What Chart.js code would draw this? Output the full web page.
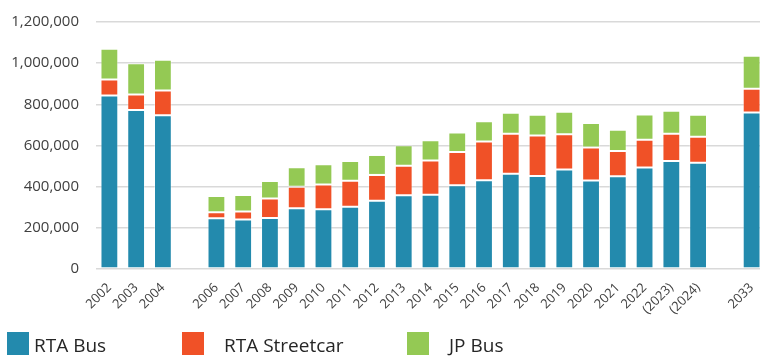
<!DOCTYPE html>
<html>
<head>
<meta charset="utf-8">
<script src="https://cdn.jsdelivr.net/npm/chart.js@4.4.1/dist/chart.umd.min.js"></script>
<style>
    html, body { margin: 0; padding: 0; background: #fff; overflow: hidden; }
    #wrap { position: relative; width: 766px; height: 358px; }
    #legend { position: absolute; left: 0; top: 332px; width: 760px; height: 26px; font-family: "Open Sans", sans-serif; font-size: 19px; color: #262626; }
    .box { position: absolute; top: 0; width: 22px; height: 23px; }
    .label { position: absolute; top: 0; line-height: 26px; white-space: nowrap; }
</style>
</head>
<body>
<div id="wrap">
    <canvas id="ridership" width="766" height="358"></canvas>
    <div id="legend"></div>
</div>
<script>
// Annual boardings by service; blank categories leave gaps in the year axis
const years = ['2002', '2003', '2004', '', '2006', '2007', '2008', '2009', '2010', '2011', '2012',
    '2013', '2014', '2015', '2016', '2017', '2018', '2019', '2020', '2021', '2022',
    '(2023)', '(2024)', '', '2033'];

const rtaBus = [843000, 772000, 747000, null, 246000, 240000, 248000, 295000, 290000, 302000, 332000,
    358000, 361000, 407000, 431000, 463000, 452000, 483000, 430000, 451000, 493000,
    525000, 516000, null, 760000];

const rtaStreetcar = [78000, 76000, 120000, null, 30000, 39000, 94000, 105000, 120000, 127000, 125000,
    144000, 166000, 161000, 188000, 194000, 196000, 172000, 160000, 122000, 135000,
    132000, 126000, null, 116000];

const jpBus = [149000, 151000, 150000, null, 79000, 81000, 86000, 94000, 99000, 96000, 97000,
    99000, 99000, 95000, 99000, 102000, 101000, 109000, 119000, 103000, 123000,
    112000, 107000, null, 160000];

const series = [
    { label: 'RTA Bus', data: rtaBus, color: '#238aad' },
    { label: 'RTA Streetcar', data: rtaStreetcar, color: '#f05127' },
    { label: 'JP Bus', data: jpBus, color: '#94c954' }
];

// legend item left edges: [box, text]
const legendPos = [[7, 34], [182, 224], [407, 449]];

new Chart(document.getElementById('ridership'), {
    type: 'bar',
    data: {
        labels: years,
        datasets: series.map(s => ({
            label: s.label,
            data: s.data,
            backgroundColor: s.color,
            borderColor: 'rgba(255,255,255,0.35)',
            borderWidth: 1,
            borderSkipped: false,
            categoryPercentage: 1,
            barPercentage: 0.665
        }))
    },
    options: {
        responsive: false,
        animation: false,
        devicePixelRatio: 1,
        layout: { padding: { left: 0, top: 22, right: 1, bottom: 39 } },
        plugins: {
            legend: { display: false },
            tooltip: { enabled: false }
        },
        scales: {
            x: {
                stacked: true,
                grid: { display: false },
                border: { display: false },
                ticks: {
                    color: '#404040',
                    font: { family: '"Open Sans", sans-serif', size: 13 },
                    minRotation: 45,
                    maxRotation: 45,
                    autoSkip: false,
                    padding: 3
                },
                // fixed axis sizes so the plot area lands where we want it
                afterFit(scale) {
                    scale.height = 50;
                    scale.paddingTop = 0;
                    scale.paddingBottom = 0;
                }
            },
            y: {
                stacked: true,
                min: 0,
                max: 1200000,
                grid: { color: '#d9d9d9', lineWidth: 1.5, drawTicks: false },
                border: { display: false },
                ticks: {
                    stepSize: 200000,
                    color: '#404040',
                    font: { family: '"Open Sans", sans-serif', size: 15 },
                    padding: 17,
                    callback: v => v.toLocaleString('en-US')
                },
                afterFit(scale) {
                    scale.width = 96;
                    scale.paddingTop = 0;
                    scale.paddingBottom = 0;
                }
            }
        }
    }
});

// HTML legend below the plot
const legend = document.getElementById('legend');
series.forEach((s, i) => {
    const box = document.createElement('div');
    box.className = 'box';
    box.style.left = legendPos[i][0] + 'px';
    box.style.background = s.color;
    const text = document.createElement('div');
    text.className = 'label';
    text.style.left = legendPos[i][1] + 'px';
    text.textContent = s.label;
    legend.appendChild(box);
    legend.appendChild(text);
});
</script>
</body>
</html>
